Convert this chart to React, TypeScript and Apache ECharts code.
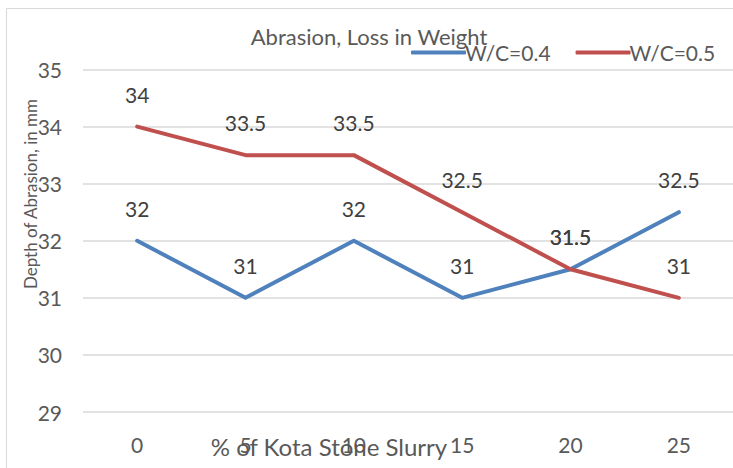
import React, { useEffect, useRef } from "react";
import * as echarts from "echarts";

const categories = ["0", "5", "10", "15", "20", "25"];
const seriesNames = ["W/C=0.4", "W/C=0.5"];
const wc04 = [32, 31, 32, 31, 31.5, 32.5];
const wc05 = [34, 33.5, 33.5, 32.5, 31.5, 31];
const titleText = "Abrasion, Loss in Weight";
const yName = "Depth of Abrasion, in mm";
const xName = "% of Kota Stone Slurry";

const FONT = "Lato";
const FS = 21;

export default function App() {
  const ref = useRef<HTMLDivElement>(null);
  useEffect(() => {
    if (!ref.current) return;
    const chart = echarts.init(ref.current, undefined, { renderer: "svg" });
    const label = {
      show: true,
      position: "top" as const,
      distance: 22,
      fontFamily: FONT,
      fontSize: FS,
      color: "#404040",
    };
    chart.setOption({
      animation: false,
      backgroundColor: "#fff",
      textStyle: { fontFamily: FONT },
      legend: {
        left: 406,
        top: 37,
        itemWidth: 55,
        itemHeight: 4,
        itemGap: 25,
        icon: "roundRect",
        textStyle: { fontFamily: FONT, fontSize: FS, color: "#595959", padding: [0, 0, 0, -6] },
        data: seriesNames,
      },
      grid: { left: 83, top: 69.5, width: 658, bottom: 56, containLabel: false },
      xAxis: {
        type: "category",
        data: categories,
        boundaryGap: true,
        axisLine: { show: false },
        axisTick: { show: false },
        axisLabel: { fontFamily: FONT, fontSize: FS, color: "#595959", margin: 22 },
      },
      yAxis: {
        type: "value",
        min: 29,
        max: 35,
        interval: 1,
        axisLine: { show: false },
        axisTick: { show: false },
        axisLabel: { fontFamily: FONT, fontSize: FS, color: "#595959", margin: 21 },
        splitLine: { lineStyle: { color: "#d9d9d9", width: 1.5 } },
      },
      graphic: [
        {
          type: "rect",
          shape: { x: 6.5, y: 8.5, width: 740, height: 470 },
          style: { fill: "none", stroke: "#d9d9d9", lineWidth: 1 },
          silent: true,
          z: -1,
        },
        {
          type: "text",
          x: 369,
          y: 36,
          style: {
            text: titleText,
            fontFamily: FONT,
            fontSize: 22,
            fill: "#595959",
            textAlign: "center",
            textVerticalAlign: "middle",
          },
        },
        {
          type: "text",
          x: 30,
          y: 194,
          rotation: Math.PI / 2,
          style: {
            text: yName,
            fontFamily: FONT,
            fontSize: 17,
            fill: "#595959",
            textAlign: "center",
            textVerticalAlign: "middle",
          },
        },
        {
          type: "text",
          x: 329,
          y: 446,
          style: {
            text: xName,
            fontFamily: FONT,
            fontSize: 24,
            fill: "#595959",
            textAlign: "center",
            textVerticalAlign: "middle",
          },
        },
      ],
      series: [
        {
          name: seriesNames[0],
          type: "line",
          data: wc04,
          symbol: "circle",
          symbolSize: 0,
          showSymbol: true,
          lineStyle: { color: "#4f81bd", width: 4, cap: "round", join: "round" },
          itemStyle: { color: "#4f81bd" },
          label,
        },
        {
          name: seriesNames[1],
          type: "line",
          data: wc05,
          symbol: "circle",
          symbolSize: 0,
          showSymbol: true,
          lineStyle: { color: "#c0504d", width: 4, cap: "round", join: "round" },
          itemStyle: { color: "#c0504d" },
          label,
        },
      ],
    });
    return () => chart.dispose();
  }, []);
  return <div ref={ref} style={{ width: 733, height: 468, position: "absolute", left: 0, top: 0 }} />;
}
